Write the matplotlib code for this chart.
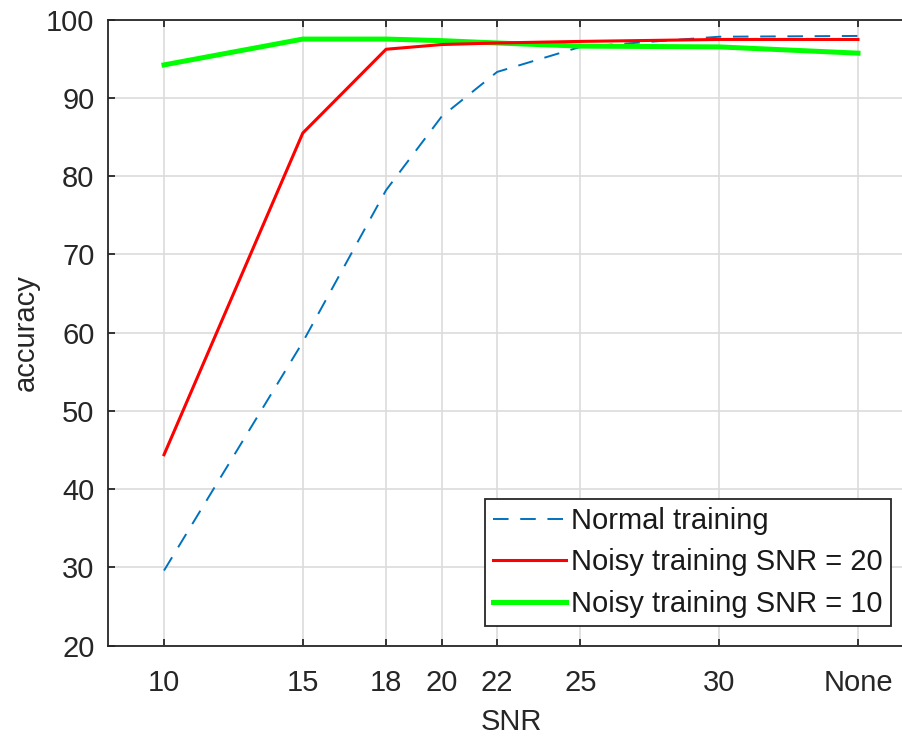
import matplotlib
matplotlib.use("Agg")
import matplotlib.pyplot as plt

plt.rcParams['font.family'] = ['Liberation Sans', 'DejaVu Sans']

# SNR levels; "None" (no added noise) is placed at position 35
snr_positions = [10, 15, 18, 20, 22, 25, 30, 35]
snr_labels = ['10', '15', '18', '20', '22', '25', '30', 'None']

normal_training = [29.6, 58.8, 78.2, 87.6, 93.3, 96.5, 97.8, 97.9]
noisy_snr20 = [44.4, 85.5, 96.2, 96.8, 97.0, 97.2, 97.45, 97.45]
noisy_snr10 = [94.2, 97.5, 97.5, 97.3, 97.0, 96.6, 96.5, 95.7]

y_ticks = [20, 30, 40, 50, 60, 70, 80, 90, 100]

text_color = '#262626'
font_size = 21

fig = plt.figure(figsize=(9.03, 7.39), dpi=100)
ax = fig.add_axes([108.5 / 903, 1 - 645.7 / 739, 805 / 903, 626.2 / 739])

ax.plot(snr_positions, normal_training, color='#0072BD', lw=1.4,
        linestyle=(0, (8, 6)), label='Normal training', zorder=3)
ax.plot(snr_positions, noisy_snr20, color='#FF0000', lw=2.2,
        label='Noisy training SNR = 20', zorder=4)
ax.plot(snr_positions, noisy_snr10, color='#00FF00', lw=3.6,
        label='Noisy training SNR = 10', zorder=3)

ax.set_xlim(8, 37)
ax.set_ylim(20, 100)
ax.set_xticks(snr_positions)
ax.set_xticklabels(snr_labels)
ax.set_yticks(y_ticks)

ax.grid(True, color='#dcdcdc', lw=1.2, zorder=0)
ax.set_axisbelow(True)

for side in ['left', 'bottom', 'top', 'right']:
    ax.spines[side].set_color(text_color)
    ax.spines[side].set_linewidth(1.3)

ax.tick_params(axis='both', direction='in', length=5, width=1.3,
               colors=text_color, labelsize=font_size, top=True, right=True)
ax.tick_params(axis='x', pad=17)
ax.tick_params(axis='y', pad=10)

ax.set_xlabel('SNR', fontsize=font_size, color=text_color, labelpad=8)
ax.set_ylabel('accuracy', fontsize=font_size, color=text_color, labelpad=5)

leg = ax.legend(loc='lower right', bbox_to_anchor=(0.972, 0.032),
                borderaxespad=0, fontsize=font_size, fancybox=False,
                framealpha=1, edgecolor=text_color, handlelength=2.5,
                handletextpad=0.2, labelspacing=0.46, borderpad=0.27)
leg.get_frame().set_linewidth(1.3)
for t in leg.get_texts():
    t.set_color('#1a1a1a')

fig.savefig('out.png', dpi=100, facecolor='white')
